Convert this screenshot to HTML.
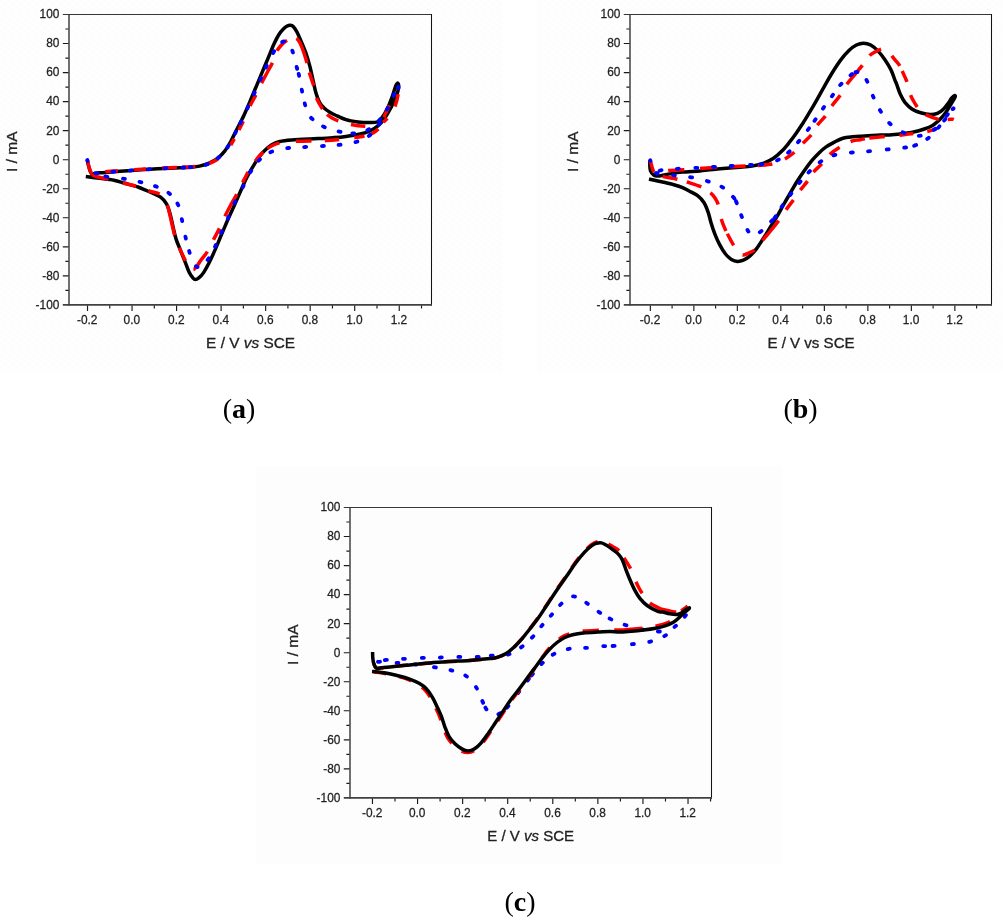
<!DOCTYPE html>
<html lang="en"><head><meta charset="utf-8"><title>Cyclic voltammograms</title>
<style>
html,body{margin:0;padding:0;background:#fff}
body{width:1003px;height:921px;position:relative;overflow:hidden}
svg{position:absolute;left:0;top:0;display:block;will-change:transform}
svg text{font-family:"Liberation Sans",Arial,Helvetica,sans-serif}
.cap{position:absolute;font-family:"Liberation Serif","Times New Roman",serif;font-size:28px;line-height:28px;color:#000;white-space:nowrap;transform:translateX(-50%)}
.cap b{font-weight:700}
</style></head><body>
<svg width="1003" height="921" viewBox="0 0 1003 921">
<defs>
<pattern id="dp" width="8" height="6" patternUnits="userSpaceOnUse"><rect width="8" height="6" fill="#fefefe"/><rect x="1" y="1" width="1" height="1" fill="#fdf5f5"/><rect x="5" y="4" width="1" height="1" fill="#f3fbfc"/><rect x="3" y="3" width="1" height="1" fill="#fdf6f6"/></pattern>
<pattern id="dg" width="4" height="4" patternUnits="userSpaceOnUse"><rect width="4" height="4" fill="#fefefe"/><rect x="1" y="1" width="1" height="1" fill="#f6f6f6"/><rect x="3" y="3" width="1" height="1" fill="#f8f8f8"/></pattern>
</defs>
<rect x="0" y="0" width="503" height="371" fill="url(#dp)"/>
<g>
<path d="M87.3 160.0C87.5 161.0 88.1 164.1 88.6 166.0C89.1 167.9 89.7 170.1 90.3 171.5C90.9 172.9 91.2 174.0 92.0 174.3C92.8 174.6 92.8 173.6 95.0 173.3C97.2 173.0 100.8 172.8 104.9 172.4C109.1 172.1 114.4 171.6 119.9 171.2C125.4 170.8 133.0 170.3 138.0 170.0C143.0 169.7 145.6 169.5 150.0 169.2C154.4 168.9 159.7 168.6 164.7 168.4C169.7 168.2 175.8 168.0 180.0 167.8C184.2 167.6 186.7 167.6 190.0 167.3C193.3 167.0 196.4 166.8 199.6 166.1C202.8 165.4 206.1 164.4 209.1 163.1C212.1 161.8 214.9 160.3 217.5 158.3C220.1 156.3 222.5 153.9 224.7 151.1C226.9 148.3 228.8 144.9 230.7 141.5C232.6 138.1 233.9 135.2 236.1 130.8C238.3 126.4 241.8 120.0 244.1 115.0C246.4 110.0 248.1 105.8 250.1 101.1C252.1 96.4 254.1 91.6 256.1 86.8C258.1 82.0 260.1 77.2 262.1 72.4C264.1 67.6 266.1 62.9 268.1 58.1C270.1 53.3 272.3 47.6 274.1 43.7C275.9 39.8 277.2 37.2 278.8 34.7C280.4 32.2 282.2 30.2 283.6 28.8C285.0 27.4 286.1 26.6 287.2 26.0C288.3 25.4 289.2 25.1 290.2 25.2C291.2 25.3 292.1 25.3 293.2 26.4C294.3 27.5 295.4 29.1 296.8 31.8C298.2 34.5 300.0 38.7 301.6 42.5C303.2 46.3 305.0 50.5 306.4 54.5C307.8 58.5 308.8 62.2 309.9 66.4C311.0 70.6 311.9 75.2 312.9 79.6C313.9 84.0 314.8 89.0 315.9 92.8C317.0 96.6 318.1 99.7 319.5 102.3C320.9 104.9 322.5 106.6 324.3 108.3C326.1 110.0 328.5 111.4 330.3 112.5C332.1 113.6 332.5 113.8 335.1 115.0C337.7 116.2 342.1 118.5 345.9 119.7C349.7 120.9 353.9 121.5 357.9 122.0C361.9 122.5 366.6 122.6 369.8 122.6C373.0 122.6 375.0 122.8 377.0 122.0C379.0 121.2 380.1 120.2 381.8 117.9C383.6 115.6 385.8 111.9 387.5 108.3C389.2 104.7 391.0 99.9 392.3 96.3C393.6 92.7 394.5 89.0 395.4 86.8C396.3 84.6 397.4 82.9 397.9 83.2C398.4 83.5 398.9 85.9 398.5 88.5C398.1 91.1 396.6 95.4 395.3 98.7C394.0 102.0 392.3 105.1 390.6 108.3C388.9 111.5 387.0 115.0 384.9 117.9C382.8 120.8 380.7 123.4 378.2 125.6C375.7 127.8 372.8 129.6 369.8 131.0C366.8 132.4 364.3 133.1 360.3 134.0C356.3 134.9 350.3 135.8 345.9 136.4C341.5 137.0 337.9 137.3 333.9 137.6C329.9 137.9 326.0 138.2 322.0 138.4C318.0 138.6 315.1 138.8 310.0 139.0C304.9 139.2 296.8 139.5 291.7 139.9C286.6 140.3 283.1 140.6 279.7 141.5C276.3 142.4 274.0 143.5 271.4 145.1C268.8 146.7 266.4 148.9 264.2 151.1C262.0 153.3 260.2 155.5 258.2 158.3C256.2 161.1 254.2 164.5 252.2 167.9C250.2 171.3 248.2 174.6 246.2 178.6C244.2 182.6 242.3 187.3 240.3 191.8C238.3 196.3 236.4 200.8 234.3 205.4C232.2 210.0 230.0 214.7 227.9 219.5C225.8 224.3 223.7 229.5 221.6 234.3C219.5 239.2 217.6 244.0 215.6 248.6C213.6 253.2 211.6 257.8 209.6 261.8C207.6 265.8 205.4 269.9 203.6 272.6C201.8 275.3 200.2 276.8 198.8 277.9C197.4 279.0 196.3 279.5 195.3 279.5C194.3 279.5 193.9 279.0 192.9 277.9C191.9 276.8 190.6 275.3 189.3 272.6C188.0 269.9 186.6 265.6 185.1 261.8C183.6 258.0 181.8 253.6 180.3 249.8C178.8 246.0 177.3 242.9 176.1 239.1C174.9 235.3 174.1 231.3 173.1 227.1C172.1 222.9 171.2 217.8 170.1 213.9C169.0 210.0 168.1 206.6 166.5 203.8C164.9 201.0 163.0 199.0 160.6 197.2C158.2 195.4 154.8 194.2 152.2 193.0C149.6 191.8 147.4 190.8 145.0 189.8C142.6 188.8 141.3 188.1 138.0 187.0C134.7 185.9 128.9 184.4 124.9 183.3C120.9 182.2 118.1 181.0 113.9 180.2C109.8 179.4 104.7 178.9 100.0 178.3C95.3 177.7 88.2 176.9 85.8 176.6" fill="none" stroke="#000" stroke-width="3.5" stroke-linejoin="round" stroke-linecap="butt"/>
<path d="M87.5 161.0C87.8 162.0 88.4 165.1 89.0 167.0C89.6 168.9 90.4 171.2 91.0 172.5C91.6 173.8 91.8 174.4 92.5 174.5C93.2 174.6 93.4 173.4 95.5 173.0C97.6 172.6 100.8 172.2 104.9 171.8C109.0 171.4 114.4 171.0 119.9 170.6C125.4 170.2 133.0 169.7 138.0 169.4C143.0 169.1 145.6 168.9 150.0 168.7C154.4 168.4 159.7 168.1 164.7 167.9C169.7 167.7 175.8 167.5 180.0 167.3C184.2 167.1 186.7 167.1 190.0 166.9C193.3 166.7 196.4 166.6 199.6 166.0C202.8 165.4 206.1 164.6 209.1 163.5C212.1 162.4 214.9 161.1 217.5 159.3C220.1 157.5 222.5 155.3 224.7 152.9C226.9 150.5 228.8 147.9 230.7 145.0C232.6 142.1 233.9 139.8 236.1 135.5C238.3 131.2 241.9 124.2 244.1 119.5C246.3 114.8 247.5 111.2 249.5 107.0C251.5 102.8 254.1 98.5 256.1 94.5C258.1 90.5 259.7 86.8 261.5 83.2C263.3 79.6 265.1 76.4 266.9 73.0C268.7 69.6 270.6 66.6 272.3 62.9C274.0 59.2 275.6 53.8 277.0 50.9C278.4 48.0 279.7 47.0 281.0 45.5C282.3 44.0 283.6 42.8 284.8 41.9C286.0 41.0 286.8 40.6 288.0 40.0C289.2 39.4 290.8 38.8 292.0 38.5C293.2 38.2 294.4 37.9 295.5 38.2C296.6 38.5 297.4 39.0 298.5 40.5C299.6 42.0 300.6 43.8 302.0 47.5C303.4 51.2 305.8 58.8 307.0 62.9C308.2 67.0 308.5 69.6 309.3 72.4C310.1 75.2 311.0 77.6 311.8 80.0C312.6 82.4 313.3 84.1 314.1 87.0C314.9 89.9 315.6 94.8 316.5 97.6C317.4 100.4 318.5 102.1 319.5 104.0C320.5 105.9 321.3 107.2 322.5 108.9C323.7 110.6 325.2 112.8 326.8 114.3C328.4 115.8 330.1 116.9 332.0 118.0C333.9 119.1 335.0 119.7 338.1 120.8C341.2 121.9 346.2 123.5 350.7 124.4C355.2 125.3 360.9 126.0 365.0 126.2C369.1 126.4 372.3 126.3 375.0 125.5C377.7 124.7 379.1 123.8 381.0 121.5C382.9 119.2 384.8 115.1 386.5 111.5C388.2 107.9 390.0 103.2 391.5 100.0C393.0 96.8 394.4 94.2 395.5 92.5C396.6 90.8 397.4 89.8 397.8 90.0C398.2 90.2 398.6 91.2 398.2 93.9C397.8 96.6 396.3 103.1 395.2 105.9C394.1 108.8 393.0 109.0 391.8 111.0C390.6 113.0 389.3 116.0 387.8 117.9C386.3 119.8 384.5 120.6 383.0 122.4C381.5 124.2 380.5 126.8 378.8 128.6C377.1 130.4 375.0 131.9 373.0 133.0C371.0 134.1 369.2 134.8 367.0 135.4C364.8 136.0 362.0 136.4 360.0 136.8C358.0 137.2 358.2 137.2 354.9 137.6C351.5 138.0 344.8 138.9 339.9 139.4C335.0 139.9 330.6 140.3 325.6 140.6C320.6 140.9 315.6 140.8 310.0 141.0C304.4 141.2 296.5 141.2 291.7 141.5C286.9 141.8 284.2 141.8 281.0 142.5C277.8 143.2 275.2 144.2 272.5 145.5C269.8 146.8 267.3 148.6 265.0 150.5C262.7 152.4 260.7 154.4 258.5 157.0C256.3 159.6 254.1 162.8 252.0 166.0C249.9 169.2 248.2 171.9 245.7 176.5C243.2 181.1 239.5 188.9 237.1 193.6C234.7 198.3 233.0 200.8 231.0 204.5C229.0 208.2 227.1 211.8 225.2 215.7C223.3 219.6 221.7 223.8 219.8 227.7C217.9 231.6 215.8 235.2 213.8 239.1C211.8 243.0 209.9 247.5 207.8 251.0C205.7 254.5 202.8 257.5 201.0 260.0C199.2 262.5 198.2 264.4 197.0 266.0C195.8 267.6 194.9 268.8 194.1 269.3C193.3 269.8 192.8 269.5 192.0 269.0C191.2 268.5 190.1 267.8 189.0 266.5C187.9 265.2 187.2 264.2 185.7 261.2C184.1 258.2 181.5 252.8 179.7 248.6C177.9 244.4 176.3 240.5 174.9 236.1C173.5 231.7 172.7 227.0 171.5 222.0C170.3 217.0 168.9 209.9 167.7 206.2C166.5 202.5 165.8 202.0 164.5 200.0C163.2 198.0 162.4 195.7 160.0 194.2C157.6 192.7 153.5 192.4 149.8 191.2C146.1 190.0 142.2 188.1 138.0 186.8C133.8 185.5 128.9 184.6 124.9 183.5C120.9 182.4 118.1 181.3 113.9 180.3C109.8 179.3 103.6 178.4 100.0 177.5C96.4 176.6 93.8 175.4 92.5 175.0" fill="none" stroke="#ff0000" stroke-width="3.5" stroke-linejoin="round" stroke-linecap="butt" stroke-dasharray="0.0 0.1 14.7 13.2 12.5 16.0 12.2 16.2 14.4 5.0 13.7 14.2 9.8 19.2 7.2 10.1 9.4 16.9 12.4 13.1 23.0 12.9 14.6 9.6 27.2 9.8 14.0 12.3 12.6 7.2 13.1 13.1 14.4 22.3 13.0 22.3 12.4 14.2 5.7 8.4 11.1 4.5 10.5 15.1 14.4 13.5 15.5 16.4 13.5 5.6 12.2 12.8 11.8 13.0 25.1 13.2 12.9 13.3 22.8 12.6 14.0 13.4 30.8 14.1 11.5 13.2 13.4 15.2 17.2 50.2"/>
<path d="M87.3 160.0C87.6 161.2 88.3 164.8 89.0 167.0C89.7 169.2 90.7 172.4 91.5 173.5C92.3 174.6 91.8 173.7 94.0 173.5C96.2 173.3 99.8 172.7 104.9 172.3C110.1 171.9 118.2 171.4 124.9 170.9C131.6 170.4 138.2 169.9 144.8 169.5C151.4 169.1 158.0 168.6 164.7 168.3C171.3 168.0 179.0 167.8 184.7 167.5C190.3 167.2 194.6 167.1 198.6 166.5C202.6 165.9 205.4 165.2 208.6 163.9C211.8 162.6 214.8 160.6 217.5 158.5C220.2 156.4 222.5 154.1 224.7 151.3C226.9 148.6 228.8 145.3 230.7 142.0C232.6 138.7 234.4 134.8 236.1 131.5C237.8 128.2 239.1 126.0 241.0 122.0C242.9 118.0 245.5 112.5 247.7 107.7C249.9 102.9 252.1 98.2 254.3 93.4C256.5 88.6 258.7 83.5 260.7 79.0C262.7 74.5 264.2 71.2 266.3 66.7C268.4 62.2 271.4 56.0 273.5 52.3C275.6 48.6 277.2 46.3 279.0 44.5C280.8 42.7 282.6 41.5 284.2 41.3C285.8 41.1 287.1 41.8 288.5 43.5C289.9 45.2 291.2 47.5 292.6 51.5C294.0 55.5 295.8 63.7 296.8 67.6C297.9 71.5 298.0 71.0 298.9 74.8C299.8 78.6 300.9 85.5 301.9 90.4C302.9 95.3 304.0 100.5 304.9 104.1C305.8 107.7 306.4 109.6 307.5 112.0C308.6 114.4 309.1 116.0 311.8 118.5C314.5 121.0 319.2 124.6 323.8 126.8C328.4 129.0 334.4 130.5 339.3 131.6C344.2 132.7 348.3 133.7 353.1 133.4C357.9 133.1 363.6 132.0 368.0 129.8C372.4 127.6 376.2 123.8 379.4 120.3C382.6 116.8 384.8 113.1 387.2 108.9C389.6 104.7 391.9 98.8 393.8 95.1C395.7 91.4 398.1 86.6 398.5 86.8C398.9 87.0 397.8 92.5 396.5 96.0C395.2 99.5 392.9 104.5 391.0 108.0C389.1 111.5 386.9 114.4 385.0 117.0C383.1 119.6 381.9 120.8 379.4 123.8C376.9 126.8 373.6 132.2 369.8 135.2C366.0 138.2 361.7 140.2 356.7 141.8C351.7 143.4 345.5 144.1 339.9 144.8C334.3 145.5 328.9 145.6 323.2 146.0C317.4 146.4 311.2 146.7 305.4 147.0C299.6 147.3 294.1 147.2 288.4 148.0C282.6 148.8 275.7 150.0 270.9 152.0C266.1 154.0 262.8 156.6 259.4 159.9C256.0 163.2 253.2 167.6 250.5 171.9C247.8 176.2 246.0 180.9 243.5 185.8C241.0 190.7 237.8 196.2 235.3 201.4C232.8 206.7 230.7 212.2 228.4 217.3C226.1 222.4 223.7 227.2 221.6 231.9C219.5 236.6 217.8 241.1 215.6 245.6C213.4 250.1 210.7 255.6 208.4 258.8C206.1 262.0 203.9 263.6 202.0 265.0C200.1 266.4 198.5 267.4 197.0 266.9C195.5 266.4 194.2 264.4 193.0 262.0C191.8 259.6 190.7 256.2 189.5 252.2C188.3 248.2 186.9 243.2 185.7 237.9C184.5 232.6 183.3 225.9 182.1 220.5C180.9 215.1 180.4 209.8 178.3 205.3C176.2 200.8 173.1 196.7 169.5 193.6C165.9 190.5 161.6 188.7 156.8 186.8C152.0 184.9 146.1 183.5 140.8 182.2C135.5 180.9 130.4 179.8 124.9 178.9C119.4 178.0 112.6 177.7 107.9 176.9C103.2 176.1 99.7 175.1 96.9 174.3C94.1 173.5 92.0 172.4 91.0 172.0" fill="none" stroke="#0000ff" stroke-width="3.8" stroke-linejoin="round" stroke-linecap="round" stroke-dasharray="1.3 17.3 2.0 14.9 2.0 15.3 2.0 16.3 2.0 14.6 2.0 15.7 2.0 5.3 2.0 14.4 2.0 11.8 2.0 12.8 2.0 13.6 2.0 9.6 2.0 14.3 2.0 13.7 2.0 13.8 2.0 11.5 2.0 14.1 2.0 12.5 2.0 13.4 2.0 14.6 2.0 5.5 2.0 13.9 2.0 12.0 2.0 14.2 2.0 12.6 2.0 14.3 2.0 12.0 2.0 13.4 2.0 12.9 2.0 11.8 2.0 13.3 2.0 7.6 2.0 40.3 2.0 12.9 2.0 12.8 2.0 15.1 2.0 14.7 2.0 15.8 2.0 15.0 2.0 15.3 2.0 12.7 2.0 12.3 2.0 14.9 2.0 15.7 2.0 14.6 2.0 14.1 2.0 13.0 2.0 13.0 2.0 12.5 2.0 14.9 2.0 12.8 2.0 15.8 2.0 14.3 2.0 12.1 2.0 13.1 2.0 14.0 2.0 14.9 2.0 15.6 2.0 215.5" stroke-dashoffset="-0.0"/>
</g>
<path d="M62.8 14.5H432.0" fill="none" stroke="#383838" stroke-width="1.15"/>
<path d="M431.5 14.0V305.79999999999995" fill="none" stroke="#141414" stroke-width="1.05"/>
<path d="M69.0 15.0V305.79999999999995" fill="none" stroke="#707070" stroke-width="2"/>
<path d="M62.8 304.9H432.0" fill="none" stroke="#414141" stroke-width="1.9"/>
<path d="M65.40 290.38h3.1M62.80 275.86h5.7M65.40 261.34h3.1M62.80 246.82h5.7M65.40 232.30h3.1M62.80 217.78h5.7M65.40 203.26h3.1M62.80 188.74h5.7M65.40 174.22h3.1M62.80 159.70h5.7M65.40 145.18h3.1M62.80 130.66h5.7M65.40 116.14h3.1M62.80 101.62h5.7M65.40 87.10h3.1M62.80 72.58h5.7M65.40 58.06h3.1M62.80 43.54h5.7M65.40 29.02h3.1M87.52 305.40v5.6M109.78 305.40v3.0M132.05 305.40v5.6M154.32 305.40v3.0M176.58 305.40v5.6M198.85 305.40v3.0M221.11 305.40v5.6M243.38 305.40v3.0M265.65 305.40v5.6M287.91 305.40v3.0M310.18 305.40v5.6M332.44 305.40v3.0M354.71 305.40v5.6M376.98 305.40v3.0M399.24 305.40v5.6M421.51 305.40v3.0" fill="none" stroke="#1a1a1a" stroke-width="1.15"/>
<g font-size="12.2" fill="#222" stroke="#222" stroke-width="0.25" text-anchor="end">
<text transform="translate(59.4 308.7) scale(0.975 1)">-100</text>
<text transform="translate(59.4 279.7) scale(0.975 1)">-80</text>
<text transform="translate(59.4 250.6) scale(0.975 1)">-60</text>
<text transform="translate(59.4 221.6) scale(0.975 1)">-40</text>
<text transform="translate(59.4 192.5) scale(0.975 1)">-20</text>
<text transform="translate(59.4 163.5) scale(0.975 1)">0</text>
<text transform="translate(59.4 134.5) scale(0.975 1)">20</text>
<text transform="translate(59.4 105.4) scale(0.975 1)">40</text>
<text transform="translate(59.4 76.4) scale(0.975 1)">60</text>
<text transform="translate(59.4 47.3) scale(0.975 1)">80</text>
<text transform="translate(59.4 18.3) scale(0.975 1)">100</text>
</g>
<g font-size="12.2" fill="#222" stroke="#222" stroke-width="0.25" text-anchor="middle">
<text transform="translate(87.2 324.4) scale(0.975 1)">-0.2</text>
<text transform="translate(131.8 324.4) scale(0.975 1)">0.0</text>
<text transform="translate(176.3 324.4) scale(0.975 1)">0.2</text>
<text transform="translate(220.8 324.4) scale(0.975 1)">0.4</text>
<text transform="translate(265.3 324.4) scale(0.975 1)">0.6</text>
<text transform="translate(309.9 324.4) scale(0.975 1)">0.8</text>
<text transform="translate(354.4 324.4) scale(0.975 1)">1.0</text>
<text transform="translate(398.9 324.4) scale(0.975 1)">1.2</text>
</g>
<text transform="translate(250.6 348.0) scale(1.02 1)" font-size="15.1" fill="#222" stroke="#222" stroke-width="0.3" text-anchor="middle">E / V <tspan font-style="italic">vs</tspan> SCE</text>
<text transform="translate(16.8 151.7) rotate(-90) scale(1.03 1)" font-size="15.1" fill="#222" stroke="#222" stroke-width="0.3" text-anchor="middle">I / mA</text>
<rect x="537.5" y="0" width="465.5" height="371" fill="url(#dp)"/>
<g>
<path d="M650.0 160.0C650.0 160.8 649.7 163.2 649.8 165.0C649.9 166.8 649.8 169.2 650.5 170.9C651.2 172.6 652.6 174.2 653.8 175.1C655.0 175.9 655.2 176.2 657.9 176.0C660.6 175.8 665.9 174.6 669.9 173.9C673.9 173.2 676.9 172.6 681.9 172.1C686.9 171.6 695.4 171.3 700.0 170.9C704.6 170.5 704.8 170.3 709.8 169.8C714.8 169.3 724.7 168.5 729.7 168.1C734.7 167.7 736.3 167.6 740.0 167.3C743.7 167.0 748.0 166.8 752.0 166.1C756.0 165.4 760.3 164.4 763.9 163.1C767.5 161.8 770.5 160.3 773.5 158.3C776.5 156.3 779.3 153.7 781.9 151.1C784.5 148.5 786.7 145.7 789.1 142.7C791.5 139.7 793.8 136.6 796.2 133.2C798.6 129.8 801.5 125.2 803.4 122.4C805.2 119.6 805.2 119.5 807.3 116.1C809.3 112.7 812.9 106.7 815.7 101.8C818.5 96.9 821.3 91.7 824.1 86.8C826.9 81.9 829.6 77.0 832.4 72.5C835.2 68.0 838.0 63.6 840.8 59.9C843.6 56.2 846.6 52.8 849.2 50.3C851.8 47.8 854.0 46.2 856.4 45.0C858.8 43.8 861.1 43.2 863.5 43.2C865.9 43.2 868.3 43.7 870.7 45.0C873.1 46.3 875.5 48.4 877.9 50.9C880.3 53.4 882.9 56.7 885.1 59.9C887.3 63.1 889.5 66.7 891.1 70.1C892.8 73.5 894.0 77.9 895.0 80.3C896.0 82.7 895.9 82.4 896.8 84.7C897.7 87.0 898.9 91.3 900.3 94.3C901.7 97.3 903.1 100.1 905.1 102.6C907.1 105.1 909.7 107.5 912.3 109.2C914.9 110.9 917.7 111.9 920.7 112.8C923.7 113.7 927.5 114.5 930.3 114.6C933.1 114.7 935.2 114.3 937.4 113.4C939.6 112.5 941.6 110.9 943.4 109.2C945.2 107.5 946.8 105.1 948.2 103.2C949.6 101.3 950.7 99.2 951.8 97.9C952.9 96.6 954.3 95.6 954.8 95.5C955.3 95.4 955.6 96.0 954.9 97.5C954.2 99.0 952.2 102.1 950.8 104.5C949.3 106.9 948.0 109.5 946.2 112.0C944.4 114.5 942.1 117.2 939.8 119.4C937.5 121.6 935.2 123.8 932.6 125.4C930.0 127.0 927.5 127.9 924.3 129.0C921.1 130.1 917.3 131.2 913.5 132.0C909.7 132.8 905.5 133.3 901.5 133.8C897.5 134.3 893.2 134.8 889.6 135.0C886.0 135.2 884.9 134.9 880.0 135.1C875.1 135.3 864.6 136.0 860.0 136.3C855.4 136.6 855.4 136.5 852.5 136.8C849.6 137.1 845.9 137.3 842.9 138.2C839.9 139.1 837.3 140.6 834.5 142.1C831.7 143.6 828.7 145.1 826.1 146.9C823.5 148.7 821.4 150.6 819.0 152.9C816.6 155.2 814.2 157.8 811.8 160.7C809.4 163.6 807.0 166.9 804.6 170.3C802.2 173.7 799.8 177.2 797.4 181.0C795.0 184.8 792.7 188.9 790.3 193.0C787.9 197.1 785.3 201.6 783.1 205.5C780.9 209.4 779.0 213.0 777.0 216.5C775.0 220.0 773.1 222.8 770.9 226.3C768.7 229.8 766.2 234.0 763.8 237.7C761.4 241.4 759.0 245.5 756.6 248.6C754.2 251.7 751.6 254.5 749.4 256.4C747.2 258.3 745.4 259.4 743.4 260.2C741.4 261.0 739.4 261.5 737.4 261.4C735.4 261.3 733.4 260.6 731.4 259.4C729.4 258.2 727.5 256.5 725.5 254.0C723.5 251.5 721.3 247.8 719.5 244.4C717.7 241.0 716.1 237.2 714.7 233.6C713.3 230.0 712.2 226.5 711.1 222.9C710.0 219.3 709.3 215.5 708.1 212.1C706.9 208.7 705.6 205.2 703.9 202.5C702.2 199.8 700.3 197.8 697.9 195.9C695.5 194.0 692.3 192.6 689.6 191.2C686.9 189.8 684.5 188.4 681.9 187.3C679.3 186.2 676.9 185.6 673.9 184.8C670.9 184.0 668.0 183.3 663.9 182.3C659.8 181.3 651.5 179.6 649.0 179.0" fill="none" stroke="#000" stroke-width="3.5" stroke-linejoin="round" stroke-linecap="butt"/>
<path d="M650.5 161.4C650.8 162.3 651.5 165.2 652.0 167.0C652.5 168.8 653.1 170.9 653.8 172.1C654.5 173.3 655.0 173.9 656.0 174.0C657.0 174.1 658.0 173.1 660.0 172.5C662.0 171.9 664.1 171.1 668.1 170.6C672.1 170.1 679.0 170.0 684.3 169.7C689.6 169.3 694.0 168.9 700.0 168.5C706.0 168.1 713.3 167.6 720.0 167.2C726.7 166.8 733.7 166.6 740.0 166.3C746.3 166.0 752.5 165.9 757.9 165.5C763.3 165.1 768.8 164.7 772.3 164.0C775.8 163.3 776.9 162.3 779.0 161.5C781.1 160.7 782.3 160.4 784.9 158.9C787.5 157.4 791.4 154.9 794.4 152.3C797.4 149.7 800.0 146.2 802.8 143.3C805.6 140.4 808.8 137.9 811.2 135.0C813.6 132.1 814.6 128.8 817.0 125.6C819.4 122.4 822.8 119.4 825.3 116.1C827.8 112.8 829.3 109.5 831.8 106.0C834.3 102.5 837.7 98.8 840.2 95.2C842.7 91.6 844.4 87.8 846.8 84.4C849.2 81.0 851.9 78.0 854.5 74.8C857.1 71.6 859.8 68.5 862.3 65.3C864.8 62.1 867.4 57.9 869.5 55.7C871.6 53.5 873.1 53.1 875.0 52.0C876.9 50.9 879.1 49.7 880.9 49.1C882.6 48.5 884.1 48.0 885.5 48.3C886.9 48.6 887.9 49.7 889.0 51.0C890.1 52.3 891.0 54.5 892.0 56.0C893.0 57.5 893.7 58.3 895.0 59.9C896.3 61.5 898.5 63.8 899.7 65.6C900.9 67.4 900.9 68.2 902.1 70.9C903.3 73.6 905.5 77.7 906.9 81.7C908.3 85.7 909.4 91.7 910.5 94.9C911.6 98.1 912.4 99.0 913.5 101.0C914.6 103.0 915.9 105.1 917.1 106.8C918.4 108.5 919.6 109.7 921.0 111.0C922.4 112.3 922.6 113.2 925.5 114.6C928.4 116.0 934.9 118.6 938.6 119.4C942.3 120.2 945.0 119.4 947.6 119.4C950.2 119.5 954.4 119.0 954.0 119.7C953.6 120.4 948.0 122.0 945.0 123.5C942.0 125.0 939.1 127.1 936.2 128.4C933.4 129.7 931.7 130.6 927.9 131.4C924.1 132.2 918.2 132.8 913.5 133.4C908.8 134.0 904.5 134.7 899.7 135.2C894.9 135.7 889.8 135.9 884.8 136.4C879.8 136.9 874.1 137.4 870.0 138.0C865.9 138.6 863.2 139.1 860.0 139.7C856.8 140.3 854.2 140.2 850.7 141.5C847.2 142.8 842.7 145.4 839.3 147.5C835.9 149.6 833.2 151.4 830.3 154.1C827.4 156.8 824.8 160.7 822.0 163.7C819.2 166.7 816.0 169.1 813.6 172.0C811.2 174.9 809.8 178.0 807.6 181.0C805.4 184.0 802.8 186.8 800.4 190.0C798.0 193.2 795.6 196.9 793.2 200.2C790.8 203.5 788.5 206.3 786.1 209.7C783.7 213.1 781.3 216.9 778.7 220.5C776.1 224.1 773.2 227.7 770.5 231.0C767.8 234.3 765.2 237.1 762.6 240.2C760.0 243.3 757.1 247.7 754.8 249.8C752.4 251.9 750.5 252.1 748.5 253.0C746.5 253.9 744.5 255.1 742.8 255.0C741.1 254.9 740.0 254.1 738.5 252.5C737.0 250.9 735.9 249.2 733.8 245.6C731.7 242.0 728.2 235.6 726.1 231.2C724.0 226.8 722.6 223.7 721.3 219.3C720.0 214.9 719.3 208.5 718.3 204.9C717.2 201.3 716.3 200.0 715.0 198.0C713.7 196.0 712.8 194.7 710.5 192.9C708.2 191.1 705.4 188.8 701.5 187.0C697.6 185.2 691.2 183.3 687.2 182.0C683.2 180.7 681.7 180.2 677.7 179.3C673.7 178.4 666.8 177.4 663.0 176.6C659.2 175.8 656.3 174.7 655.0 174.3" fill="none" stroke="#ff0000" stroke-width="3.5" stroke-linejoin="round" stroke-linecap="butt" stroke-dasharray="11.2 15.7 16.2 15.7 16.7 13.5 15.4 12.4 14.5 13.6 11.6 12.3 11.8 11.6 12.1 12.0 13.7 12.7 24.6 12.0 13.3 14.6 12.8 5.8 11.8 13.7 13.6 11.6 14.0 9.0 5.9 20.5 9.3 14.0 13.9 14.9 15.4 4.5 14.6 12.4 12.2 12.2 11.8 10.8 11.5 12.0 12.4 13.1 25.5 12.4 13.2 13.5 13.0 3.3 12.8 14.7 14.5 10.8 15.2 9.9 14.9 58.3"/>
<path d="M650.2 160.2C650.6 161.3 651.4 164.8 652.5 167.0C653.6 169.2 655.4 173.0 656.7 173.6C658.1 174.2 657.1 171.1 660.6 170.3C664.1 169.5 671.8 169.2 677.7 168.8C683.6 168.4 690.2 168.2 696.2 167.9C702.2 167.6 707.9 167.2 713.8 166.9C719.7 166.6 725.4 166.2 731.7 165.9C738.0 165.6 746.4 165.2 751.4 164.9C756.4 164.6 757.1 165.1 761.5 164.3C765.9 163.5 773.2 162.1 777.7 160.1C782.2 158.1 785.3 155.2 788.8 152.1C792.3 149.0 795.4 145.3 798.6 141.5C801.9 137.7 805.5 132.9 808.3 129.3C811.0 125.7 812.6 123.6 815.1 120.0C817.6 116.4 820.6 111.9 823.5 107.8C826.4 103.7 829.5 99.5 832.4 95.6C835.3 91.7 837.7 87.9 840.8 84.4C843.9 81.0 848.4 77.0 851.0 74.9C853.6 72.9 854.6 72.2 856.4 72.1C858.1 71.9 859.8 72.5 861.5 74.0C863.2 75.5 865.0 77.1 866.9 80.8C868.8 84.5 870.9 91.4 873.1 96.4C875.3 101.4 877.5 106.3 880.3 110.8C883.1 115.3 886.0 119.9 889.8 123.5C893.6 127.1 898.3 130.5 903.3 132.6C908.2 134.7 914.3 136.4 919.5 135.9C924.7 135.4 930.2 132.2 934.4 129.6C938.6 126.9 941.4 123.5 944.6 120.0C947.8 116.5 953.1 109.3 953.6 108.4C954.1 107.5 950.0 111.6 947.6 114.6C945.2 117.6 942.4 122.7 939.2 126.6C936.0 130.5 932.4 134.8 928.5 137.9C924.6 141.0 919.7 143.5 915.9 145.1C912.1 146.7 910.3 146.8 905.7 147.5C901.1 148.2 894.4 148.7 888.4 149.3C882.4 149.9 875.8 150.7 869.8 151.2C863.8 151.7 858.3 151.9 852.5 152.5C846.7 153.1 840.3 153.4 835.1 154.9C829.9 156.4 825.3 158.6 821.1 161.3C816.9 164.0 813.2 167.8 809.8 171.2C806.3 174.6 803.5 177.9 800.4 181.6C797.3 185.3 794.2 189.6 791.2 193.6C788.2 197.6 785.1 201.7 782.5 205.5C779.9 209.3 777.5 213.7 775.7 216.3C773.9 218.9 773.9 218.7 771.5 221.1C769.1 223.5 764.2 228.8 761.4 231.0C758.6 233.2 756.9 234.4 754.7 234.5C752.5 234.6 750.5 234.4 748.4 231.5C746.3 228.6 743.8 221.6 741.9 216.9C740.0 212.2 738.2 206.4 736.8 203.1C735.3 199.8 735.5 199.7 733.2 197.1C730.9 194.5 727.2 190.2 723.1 187.6C719.0 185.0 713.9 183.3 708.7 181.6C703.5 179.9 697.7 178.4 692.0 177.4C686.3 176.4 680.5 176.2 674.7 175.4C668.9 174.7 660.0 173.3 657.0 172.9" fill="none" stroke="#0000ff" stroke-width="3.8" stroke-linejoin="round" stroke-linecap="round" stroke-dasharray="1.0 13.1 2.0 3.5 2.0 15.2 2.0 16.5 2.0 15.6 2.0 15.9 2.0 17.1 2.0 8.8 2.0 14.8 2.0 11.7 2.0 12.4 2.0 13.6 2.0 9.5 2.0 12.8 2.0 13.1 2.0 12.0 2.0 12.0 2.0 4.2 2.0 12.3 2.0 14.8 2.0 14.1 2.0 13.9 2.0 14.4 2.0 14.7 2.0 14.3 2.0 12.1 2.0 12.7 2.0 6.9 2.0 12.7 2.0 13.6 2.0 12.6 2.0 8.5 2.0 15.4 2.0 16.7 2.0 15.3 2.0 15.6 2.0 13.5 2.0 13.1 2.0 12.0 2.0 13.1 2.0 12.7 2.0 10.8 2.0 3.3 2.0 13.3 2.0 13.1 2.0 14.0 2.0 12.7 2.0 3.6 2.0 13.4 2.0 13.6 2.0 15.2 2.0 15.4 2.0 216.9" stroke-dashoffset="-0.0"/>
</g>
<path d="M623.8 14.5H992.0" fill="none" stroke="#383838" stroke-width="1.15"/>
<path d="M991.5 14.0V305.79999999999995" fill="none" stroke="#141414" stroke-width="1.05"/>
<path d="M630.0 15.0V305.79999999999995" fill="none" stroke="#707070" stroke-width="2"/>
<path d="M623.8 304.9H992.0" fill="none" stroke="#414141" stroke-width="1.9"/>
<path d="M626.40 290.38h3.1M623.80 275.86h5.7M626.40 261.34h3.1M623.80 246.82h5.7M626.40 232.30h3.1M623.80 217.78h5.7M626.40 203.26h3.1M623.80 188.74h5.7M626.40 174.22h3.1M623.80 159.70h5.7M626.40 145.18h3.1M623.80 130.66h5.7M626.40 116.14h3.1M623.80 101.62h5.7M626.40 87.10h3.1M623.80 72.58h5.7M626.40 58.06h3.1M623.80 43.54h5.7M626.40 29.02h3.1M650.35 305.40v5.6M672.10 305.40v3.0M693.85 305.40v5.6M715.60 305.40v3.0M737.35 305.40v5.6M759.10 305.40v3.0M780.85 305.40v5.6M802.61 305.40v3.0M824.36 305.40v5.6M846.11 305.40v3.0M867.86 305.40v5.6M889.61 305.40v3.0M911.36 305.40v5.6M933.11 305.40v3.0M954.86 305.40v5.6M976.61 305.40v3.0" fill="none" stroke="#1a1a1a" stroke-width="1.15"/>
<g font-size="12.2" fill="#222" stroke="#222" stroke-width="0.25" text-anchor="end">
<text transform="translate(620.4 308.7) scale(0.975 1)">-100</text>
<text transform="translate(620.4 279.7) scale(0.975 1)">-80</text>
<text transform="translate(620.4 250.6) scale(0.975 1)">-60</text>
<text transform="translate(620.4 221.6) scale(0.975 1)">-40</text>
<text transform="translate(620.4 192.5) scale(0.975 1)">-20</text>
<text transform="translate(620.4 163.5) scale(0.975 1)">0</text>
<text transform="translate(620.4 134.5) scale(0.975 1)">20</text>
<text transform="translate(620.4 105.4) scale(0.975 1)">40</text>
<text transform="translate(620.4 76.4) scale(0.975 1)">60</text>
<text transform="translate(620.4 47.3) scale(0.975 1)">80</text>
<text transform="translate(620.4 18.3) scale(0.975 1)">100</text>
</g>
<g font-size="12.2" fill="#222" stroke="#222" stroke-width="0.25" text-anchor="middle">
<text transform="translate(650.0 324.4) scale(0.975 1)">-0.2</text>
<text transform="translate(693.6 324.4) scale(0.975 1)">0.0</text>
<text transform="translate(737.1 324.4) scale(0.975 1)">0.2</text>
<text transform="translate(780.6 324.4) scale(0.975 1)">0.4</text>
<text transform="translate(824.1 324.4) scale(0.975 1)">0.6</text>
<text transform="translate(867.6 324.4) scale(0.975 1)">0.8</text>
<text transform="translate(911.1 324.4) scale(0.975 1)">1.0</text>
<text transform="translate(954.6 324.4) scale(0.975 1)">1.2</text>
</g>
<text transform="translate(811.0 348.0) scale(1.0 1)" font-size="15.1" fill="#222" stroke="#222" stroke-width="0.3" text-anchor="middle">E / V vs SCE</text>
<text transform="translate(577.7 151.7) rotate(-90) scale(1.03 1)" font-size="15.1" fill="#222" stroke="#222" stroke-width="0.3" text-anchor="middle">I / mA</text>
<rect x="255.7" y="465.7" width="526.9000000000001" height="398.59999999999997" fill="url(#dg)"/>
<g>
<path d="M372.6 651.9C372.8 653.1 372.9 657.3 374.0 659.0C375.1 660.7 376.9 661.8 378.9 661.9C380.9 662.0 381.7 660.4 385.9 659.9C390.1 659.4 397.8 659.2 403.9 658.9C410.0 658.6 416.6 658.1 422.8 657.9C429.0 657.7 434.7 657.7 440.8 657.5C446.9 657.3 453.2 657.0 459.3 656.9C465.4 656.8 472.2 657.1 477.6 656.9C483.0 656.7 486.7 656.0 491.8 655.6C496.9 655.2 503.5 655.9 508.5 654.4C513.5 652.9 517.7 649.8 521.7 646.9C525.7 644.0 529.1 640.6 532.5 637.1C535.9 633.6 538.7 629.4 541.8 625.7C544.9 622.1 548.2 618.7 551.3 615.2C554.4 611.7 557.9 607.3 560.6 604.5C563.3 601.7 565.3 599.9 567.5 598.5C569.7 597.1 571.6 596.3 573.8 596.4C576.0 596.5 578.3 597.9 580.5 599.0C582.7 600.1 583.9 601.1 587.0 603.3C590.1 605.5 595.2 609.5 599.1 612.1C603.0 614.7 605.9 616.8 610.3 618.9C614.7 621.0 620.0 623.2 625.3 625.0C630.6 626.8 636.5 628.4 642.0 629.5C647.5 630.6 654.2 631.4 658.5 631.5C662.8 631.6 665.2 630.9 668.0 630.0C670.8 629.1 672.4 628.7 675.2 626.4C678.1 624.1 682.9 618.9 685.1 616.2C687.3 613.6 688.5 610.4 688.5 610.5C688.5 610.6 687.3 614.2 685.1 617.0C682.9 619.8 678.8 624.4 675.5 627.5C672.2 630.6 669.5 633.2 665.3 635.6C661.1 638.0 655.8 640.2 650.4 641.6C645.0 643.0 639.1 643.4 633.1 644.1C627.1 644.8 619.3 645.6 614.5 645.9C609.7 646.2 609.0 645.8 604.3 646.1C599.6 646.4 592.2 647.5 586.3 647.9C580.4 648.3 574.4 647.8 569.0 648.8C563.6 649.8 558.2 651.7 553.8 654.1C549.3 656.5 545.8 659.9 542.3 663.2C538.8 666.6 534.8 671.5 532.5 674.2C530.2 676.9 530.6 676.6 528.3 679.6C526.0 682.6 522.1 687.6 518.7 692.1C515.3 696.6 510.6 703.2 508.0 706.5C505.4 709.8 504.4 710.8 503.0 712.0C501.6 713.2 500.6 712.9 499.3 713.6C498.0 714.3 496.5 715.9 495.0 716.0C493.5 716.1 492.0 715.7 490.5 714.5C489.0 713.3 487.4 710.9 486.1 708.8C484.8 706.7 484.4 705.5 482.8 702.1C481.2 698.7 479.3 692.4 476.6 688.1C473.9 683.8 470.5 679.1 466.4 676.2C462.3 673.3 457.0 672.0 451.8 670.5C446.6 669.0 441.3 668.4 435.3 667.4C429.3 666.4 422.2 665.2 416.0 664.5C409.8 663.8 404.1 663.3 397.9 662.9C391.7 662.5 382.1 662.1 378.9 661.9" fill="none" stroke="#0000ff" stroke-width="3.8" stroke-linejoin="round" stroke-linecap="round" stroke-dasharray="2.0 5.3 2.0 16.0 2.0 16.9 2.0 16.0 2.0 16.5 2.0 16.3 2.0 12.3 2.0 14.8 2.0 13.3 2.0 12.6 2.0 12.7 2.0 12.2 2.0 12.2 2.0 13.9 2.0 13.0 2.0 13.0 2.0 11.1 2.0 14.2 2.0 15.3 2.0 14.6 2.0 15.8 2.0 12.2 2.0 39.3 2.0 14.1 2.0 15.5 2.0 17.3 2.0 7.6 2.0 16.1 2.0 15.3 2.0 14.2 2.0 12.7 2.0 12.7 2.0 4.8 2.0 13.8 2.0 15.9 2.0 9.5 2.0 15.1 2.0 5.5 2.0 13.3 2.0 13.8 2.0 13.8 2.0 14.8 2.0 17.5 2.0 16.2 2.0 230.2" stroke-dashoffset="-12.2"/>
<path d="M372.6 652.0C372.6 653.0 372.6 656.2 372.8 658.0C373.0 659.8 373.1 661.3 373.6 663.0C374.1 664.7 374.9 667.1 376.0 668.0C377.1 668.9 377.7 668.4 380.0 668.2C382.3 668.0 384.9 667.5 389.9 666.9C394.9 666.3 403.2 665.6 409.9 664.9C416.5 664.2 423.2 663.5 429.8 662.9C436.4 662.3 443.1 661.9 449.7 661.5C456.3 661.1 463.0 661.0 469.7 660.5C476.4 660.0 485.4 659.1 490.0 658.6C494.6 658.1 494.6 658.2 497.2 657.4C499.8 656.6 502.8 655.5 505.6 653.8C508.4 652.1 511.1 649.9 513.9 647.3C516.7 644.7 519.6 641.4 522.3 638.3C524.9 635.2 527.2 632.2 529.8 628.8C532.4 625.4 534.9 622.2 537.9 618.0C540.9 613.8 544.3 608.4 547.5 603.6C550.7 598.8 553.9 593.7 557.1 589.0C560.3 584.3 563.5 579.8 566.7 575.2C569.9 570.6 573.2 565.3 576.2 561.3C579.2 557.3 582.0 553.8 584.6 551.0C587.2 548.2 589.8 545.9 591.8 544.4C593.8 542.9 595.0 542.4 596.6 541.9C598.2 541.4 599.8 541.3 601.4 541.5C603.0 541.7 604.6 542.2 606.5 543.0C608.4 543.8 610.4 545.2 612.5 546.5C614.6 547.8 617.4 549.0 619.3 550.9C621.2 552.8 622.7 556.0 624.1 558.1C625.5 560.2 626.4 561.7 627.5 563.5C628.6 565.3 629.7 566.9 630.7 568.9C631.7 570.9 632.6 573.3 633.5 575.5C634.4 577.7 635.2 579.9 636.1 582.0C637.0 584.1 638.0 586.1 639.0 588.0C640.0 589.9 641.1 591.8 642.3 593.5C643.5 595.2 644.7 596.9 646.0 598.5C647.3 600.1 648.4 601.8 650.1 603.1C651.8 604.4 654.1 605.5 656.0 606.5C657.9 607.5 659.2 608.4 661.4 609.1C663.6 609.8 666.5 610.3 669.0 610.8C671.5 611.3 674.4 612.0 676.4 612.0C678.4 612.0 679.3 611.8 681.2 610.8C683.1 609.8 686.6 606.8 687.8 606.1C689.0 605.4 689.2 605.8 688.5 606.5C687.8 607.2 685.2 609.1 683.5 610.5C681.8 611.9 680.3 613.5 678.5 615.0C676.7 616.5 674.1 618.3 672.5 619.5C670.9 620.7 671.4 621.2 668.6 622.3C665.8 623.4 659.7 625.2 655.5 626.2C651.3 627.2 647.5 627.6 643.5 628.1C639.5 628.6 635.5 629.0 631.5 629.3C627.5 629.6 623.2 630.0 619.6 630.1C616.0 630.2 613.6 629.7 610.0 629.7C606.4 629.7 602.2 630.1 597.7 630.3C593.2 630.5 587.5 630.7 583.3 631.1C579.1 631.5 575.8 632.1 572.6 632.9C569.4 633.7 566.8 634.6 564.2 635.9C561.6 637.2 559.4 638.8 557.0 640.8C554.6 642.8 552.2 645.0 549.8 647.7C547.4 650.4 545.0 653.8 542.6 657.0C540.2 660.2 537.8 663.7 535.5 667.0C533.2 670.3 531.5 673.2 529.0 676.8C526.5 680.3 523.8 684.3 520.8 688.3C517.8 692.3 513.8 697.1 511.0 701.0C508.2 704.9 506.2 708.2 503.8 711.8C501.4 715.4 498.9 719.2 496.5 722.8C494.1 726.4 491.7 730.2 489.3 733.6C486.9 737.0 484.5 740.6 482.0 743.4C479.5 746.2 476.8 748.8 474.5 750.3C472.2 751.8 470.4 752.5 468.2 752.6C466.0 752.7 463.9 752.2 461.5 751.0C459.1 749.8 456.3 747.7 454.0 745.5C451.7 743.3 449.6 740.9 447.8 738.0C446.1 735.1 444.8 731.5 443.5 728.0C442.2 724.5 441.1 720.4 439.8 717.0C438.5 713.6 437.0 710.7 435.5 707.5C434.0 704.3 432.5 701.0 430.7 698.0C428.9 695.0 426.9 692.0 424.8 689.8C422.7 687.5 420.6 686.1 418.0 684.5C415.4 682.9 412.2 681.3 409.2 680.0C406.2 678.7 404.2 677.9 400.0 676.8C395.8 675.7 388.6 674.1 383.9 673.3C379.2 672.5 374.0 672.1 372.0 671.9" fill="none" stroke="#ff0000" stroke-width="3.5" stroke-linejoin="round" stroke-linecap="butt" stroke-dasharray="0.0 11.5 13.0 11.5 13.0 11.5 13.0 11.5 13.0 11.5 13.0 11.5 13.0 11.5 13.0 11.5 13.0 11.5 13.0 11.5 13.0 11.5 13.0 11.5 13.0 11.5 12.4 8.7 12.7 14.2 13.1 12.4 28.1 5.0 8.1 26.0 15.2 13.2 28.5 15.3 16.1 13.5 11.9 12.6 13.0 12.6 13.0 12.6 13.0 12.6 13.0 12.6 13.0 12.6 13.0 12.6 13.0 12.6 13.0 12.6 13.0 12.6 13.0 12.6 13.0 51.6"/>
<path d="M372.6 651.9C372.6 652.9 372.6 656.2 372.8 658.0C373.0 659.8 373.1 661.2 373.6 662.9C374.1 664.5 374.9 667.0 376.0 667.9C377.1 668.8 377.7 668.2 380.0 668.0C382.3 667.8 384.9 667.4 389.9 666.9C394.9 666.4 403.2 665.6 409.9 664.9C416.5 664.2 423.2 663.5 429.8 662.9C436.4 662.3 443.1 661.9 449.7 661.5C456.3 661.1 463.0 661.0 469.7 660.5C476.4 660.0 485.4 659.1 490.0 658.6C494.6 658.1 494.6 658.2 497.2 657.4C499.8 656.6 502.8 655.5 505.6 653.8C508.4 652.1 511.1 649.9 513.9 647.3C516.7 644.7 519.6 641.3 522.3 638.3C524.9 635.2 527.2 632.3 529.8 629.0C532.4 625.7 534.9 622.6 537.9 618.5C540.9 614.4 544.3 609.0 547.5 604.2C550.7 599.4 553.9 594.5 557.1 589.8C560.3 585.1 563.5 580.7 566.7 576.1C569.9 571.5 573.2 566.3 576.2 562.3C579.2 558.3 582.0 554.9 584.6 552.1C587.2 549.3 589.8 547.1 591.8 545.6C593.8 544.1 595.0 543.7 596.6 543.2C598.2 542.8 599.8 542.6 601.4 542.9C603.0 543.2 604.3 544.0 606.1 545.0C607.9 546.0 610.1 547.6 612.1 549.1C614.1 550.6 616.4 552.1 618.1 553.9C619.8 555.7 621.0 557.3 622.3 559.9C623.6 562.5 624.6 566.1 625.9 569.5C627.2 572.9 628.7 576.7 630.2 580.2C631.7 583.7 633.4 587.6 635.0 590.6C636.6 593.6 637.9 595.8 639.9 598.3C641.9 600.8 644.1 603.3 647.1 605.5C650.1 607.7 655.3 610.3 657.9 611.4C660.5 612.5 660.6 611.6 662.6 612.0C664.6 612.4 667.4 613.4 669.8 613.8C672.2 614.2 675.0 614.6 677.0 614.4C679.0 614.2 680.2 613.5 681.8 612.6C683.4 611.7 685.4 609.9 686.6 609.1C687.8 608.3 688.6 608.0 689.0 607.9C689.4 607.8 689.8 608.0 689.0 608.8C688.2 609.6 685.8 611.5 684.2 612.9C682.6 614.3 681.2 615.8 679.4 617.4C677.6 619.0 675.8 620.8 673.4 622.2C671.0 623.6 668.0 624.8 665.0 625.8C662.0 626.8 659.1 627.5 655.5 628.2C651.9 628.9 647.5 629.5 643.5 630.0C639.5 630.5 635.5 630.9 631.5 631.2C627.5 631.5 623.2 632.0 619.6 632.0C616.0 632.0 613.6 631.5 610.0 631.5C606.4 631.5 602.2 631.9 597.7 632.1C593.2 632.3 587.5 632.5 583.3 632.9C579.1 633.3 575.8 633.9 572.6 634.7C569.4 635.5 566.8 636.4 564.2 637.7C561.6 639.0 559.4 640.6 557.0 642.5C554.6 644.4 552.2 646.6 549.8 649.1C547.4 651.6 545.0 654.4 542.6 657.4C540.2 660.4 537.9 663.8 535.5 667.0C533.1 670.2 530.9 673.1 528.3 676.6C525.7 680.1 522.9 684.0 519.9 688.0C516.9 692.0 512.9 696.8 510.1 700.7C507.3 704.6 505.3 707.8 502.9 711.4C500.5 715.0 498.1 718.6 495.7 722.2C493.3 725.8 490.9 729.6 488.5 733.0C486.1 736.4 483.8 739.9 481.4 742.6C479.0 745.3 476.4 747.7 474.2 749.1C472.0 750.5 470.2 750.9 468.2 750.9C466.2 750.9 464.4 750.3 462.2 749.1C460.0 747.9 457.2 745.9 455.0 743.8C452.8 741.7 450.8 739.4 449.1 736.6C447.4 733.8 446.2 730.4 444.9 727.0C443.6 723.6 442.6 719.6 441.3 716.2C440.0 712.8 438.6 709.9 437.1 706.7C435.6 703.5 434.1 700.1 432.3 697.1C430.5 694.1 428.5 691.0 426.3 688.7C424.1 686.4 421.9 684.9 419.1 683.3C416.3 681.7 412.8 680.3 409.6 679.1C406.4 677.9 404.3 677.2 400.0 676.2C395.7 675.2 388.6 673.6 383.9 672.8C379.2 672.0 374.0 671.6 372.0 671.4" fill="none" stroke="#000" stroke-width="3.5" stroke-linejoin="round" stroke-linecap="butt"/>
</g>
<path d="M343.8 507.5H712.0" fill="none" stroke="#383838" stroke-width="1.15"/>
<path d="M711.5 507.0V798.8" fill="none" stroke="#141414" stroke-width="1.05"/>
<path d="M350.0 508.0V798.8" fill="none" stroke="#707070" stroke-width="2"/>
<path d="M343.8 797.9H712.0" fill="none" stroke="#414141" stroke-width="1.9"/>
<path d="M346.40 783.38h3.1M343.80 768.86h5.7M346.40 754.34h3.1M343.80 739.82h5.7M346.40 725.30h3.1M343.80 710.78h5.7M346.40 696.26h3.1M343.80 681.74h5.7M346.40 667.22h3.1M343.80 652.70h5.7M346.40 638.18h3.1M343.80 623.66h5.7M346.40 609.14h3.1M343.80 594.62h5.7M346.40 580.10h3.1M343.80 565.58h5.7M346.40 551.06h3.1M343.80 536.54h5.7M346.40 522.02h3.1M372.47 798.40v5.6M395.01 798.40v3.0M417.55 798.40v5.6M440.09 798.40v3.0M462.63 798.40v5.6M485.17 798.40v3.0M507.71 798.40v5.6M530.25 798.40v3.0M552.79 798.40v5.6M575.33 798.40v3.0M597.87 798.40v5.6M620.41 798.40v3.0M642.95 798.40v5.6M665.49 798.40v3.0M688.03 798.40v5.6M710.57 798.40v3.0" fill="none" stroke="#1a1a1a" stroke-width="1.15"/>
<g font-size="12.2" fill="#222" stroke="#222" stroke-width="0.25" text-anchor="end">
<text transform="translate(340.4 801.7) scale(0.975 1)">-100</text>
<text transform="translate(340.4 772.7) scale(0.975 1)">-80</text>
<text transform="translate(340.4 743.6) scale(0.975 1)">-60</text>
<text transform="translate(340.4 714.6) scale(0.975 1)">-40</text>
<text transform="translate(340.4 685.5) scale(0.975 1)">-20</text>
<text transform="translate(340.4 656.5) scale(0.975 1)">0</text>
<text transform="translate(340.4 627.5) scale(0.975 1)">20</text>
<text transform="translate(340.4 598.4) scale(0.975 1)">40</text>
<text transform="translate(340.4 569.4) scale(0.975 1)">60</text>
<text transform="translate(340.4 540.3) scale(0.975 1)">80</text>
<text transform="translate(340.4 511.3) scale(0.975 1)">100</text>
</g>
<g font-size="12.2" fill="#222" stroke="#222" stroke-width="0.25" text-anchor="middle">
<text transform="translate(372.2 817.4) scale(0.975 1)">-0.2</text>
<text transform="translate(417.2 817.4) scale(0.975 1)">0.0</text>
<text transform="translate(462.3 817.4) scale(0.975 1)">0.2</text>
<text transform="translate(507.4 817.4) scale(0.975 1)">0.4</text>
<text transform="translate(552.5 817.4) scale(0.975 1)">0.6</text>
<text transform="translate(597.6 817.4) scale(0.975 1)">0.8</text>
<text transform="translate(642.7 817.4) scale(0.975 1)">1.0</text>
<text transform="translate(687.7 817.4) scale(0.975 1)">1.2</text>
</g>
<text transform="translate(530.7 840.5) scale(0.995 1)" font-size="15.1" fill="#222" stroke="#222" stroke-width="0.3" text-anchor="middle">E / V <tspan font-style="italic">vs</tspan> SCE</text>
<text transform="translate(297.7 644.7) rotate(-90) scale(1.03 1)" font-size="15.1" fill="#222" stroke="#222" stroke-width="0.3" text-anchor="middle">I / mA</text>
</svg>
<div class="cap" style="left:239px;top:395px">(<b>a</b>)</div>
<div class="cap" style="left:800.5px;top:395px">(<b>b</b>)</div>
<div class="cap" style="left:520px;top:887.8px">(<b>c</b>)</div>
</body></html>
